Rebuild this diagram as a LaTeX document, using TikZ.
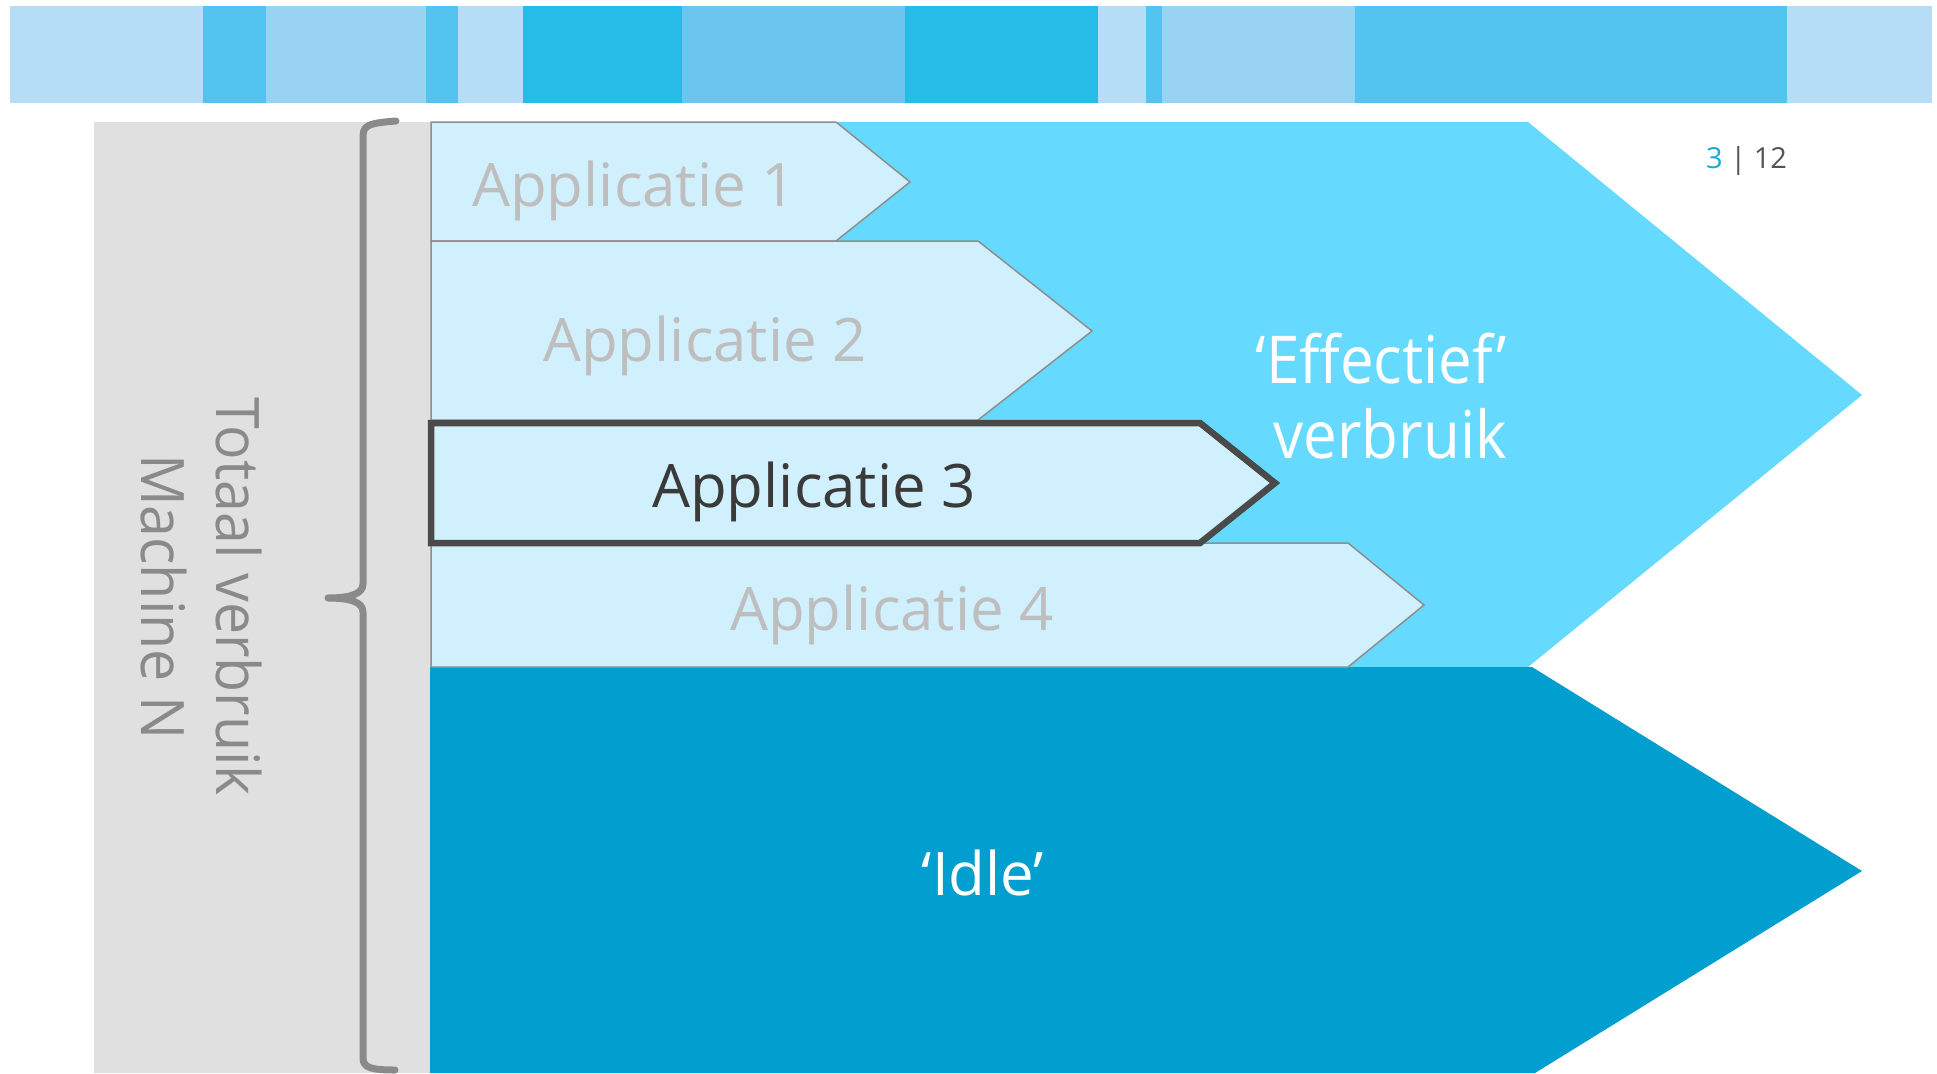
\documentclass[tikz,border=0pt]{standalone}
\usepackage{fontspec}
\setmainfont{Open Sans}
\newfontfamily\narrowfont[FakeStretch=0.955]{Open Sans}
\newfontfamily\efffont[FakeStretch=0.91]{Open Sans}
\definecolor{barA}{HTML}{B5DDF5}
\definecolor{barB}{HTML}{52C4EF}
\definecolor{barC}{HTML}{98D4F1}
\definecolor{barD}{HTML}{27BBE8}
\definecolor{barE}{HTML}{6BC5EE}
\definecolor{panel}{HTML}{E0E0E0}
\definecolor{brace}{HTML}{8A8A8A}
\definecolor{appfill}{HTML}{D0F0FD}
\definecolor{appedge}{HTML}{8E8E8E}
\definecolor{apptext}{HTML}{BEBEBE}
\definecolor{darkedge}{HTML}{4A4A4A}
\definecolor{darktext}{HTML}{3A3A3A}
\definecolor{effblue}{HTML}{66D9FF}
\definecolor{idleblue}{HTML}{009FD0}
\definecolor{pnblue}{HTML}{1BA8E0}
\definecolor{pngray}{HTML}{555555}
\begin{document}
\begin{tikzpicture}[x=1pt,y=-1pt,
  appshape/.style={fill=appfill,draw=appedge,line width=1.5pt,line join=miter},
  selshape/.style={fill=appfill,draw=darkedge,line width=6.5pt,line join=miter},
  applabel/.style={inner sep=0pt,anchor=base,text=apptext,font=\fontsize{60}{72}\selectfont},
  sellabel/.style={inner sep=0pt,anchor=base,text=darktext,font=\fontsize{60}{72}\selectfont},
  biglabel/.style={inner sep=0pt,text=white},
]
\useasboundingbox (0,0) rectangle (1937,1073);
\fill[white] (0,0) rectangle (1937,1073);
% top colour bar
\foreach \a/\b/\c in {10/203/barA,203/266/barB,266/426/barC,426/458/barB,458/523/barA,523/682/barD,682/905/barE,905/1098/barD,1098/1146/barA,1146/1162/barB,1162/1355/barC,1355/1787/barB,1787/1932/barA}
  \fill[\c] (\a,6) rectangle (\b,103);
% grey panel
\fill[panel] (94,122) rectangle (431,1073);
% brace
\draw[brace,line width=7pt,line cap=round,line join=round]
  (396,121) .. controls (372,123) and (363,124) .. (363,136) -- (363,584)
  .. controls (363,594) and (350,598) .. (328,598)
  .. controls (350,598) and (363,602) .. (363,612) -- (363,1058)
  .. controls (363,1068) and (372,1070) .. (395,1070);
% big arrows
\fill[effblue] (431,122) -- (1528,122) -- (1862,395) -- (1528,667) -- (431,667) -- cycle;
\fill[idleblue] (430,667) -- (1532,667) -- (1862,871) -- (1535,1073) -- (430,1073) -- cycle;
% application arrows
\draw[appshape] (431,122) -- (836,122) -- (910,182) -- (836,241) -- (431,241) -- cycle;
\draw[appshape] (431,241) -- (978,241) -- (1092,331) -- (978,420) -- (431,420) -- cycle;
\draw[appshape] (431,543) -- (1348,543) -- (1424,605) -- (1348,667) -- (431,667) -- cycle;
\draw[selshape] (431,423) -- (1200,423) -- (1275,483) -- (1200,543) -- (431,543) -- cycle;
% labels
\node[applabel] (a1) at (634,206) {Applicatie 1};
\node[applabel] (a2) at (705,361) {Applicatie 2};
\node[sellabel] (a3) at (814,507) {Applicatie 3};
\node[applabel] (a4) at (892,630) {Applicatie 4};
\node[biglabel,anchor=north east,align=right,font=\efffont\fontsize{66}{75}\selectfont] (eff) at (1507,333) {‘Effectief’\\verbruik};
\node[biglabel,anchor=base,font=\fontsize{60}{72}\selectfont] (idle) at (983,895) {‘Idle’};
\node[inner sep=0pt,rotate=-90,align=center,text=brace,font=\narrowfont\fontsize{60}{75}\selectfont] (tot) at (201,597) {Totaal verbruik\\Machine N};
\node[inner sep=0pt,anchor=base west,text=pngray,font=\fontsize{29}{34}\selectfont] (pn) at (1706,168) {\textcolor{pnblue}{3} | 12};
\end{tikzpicture}
\end{document}
